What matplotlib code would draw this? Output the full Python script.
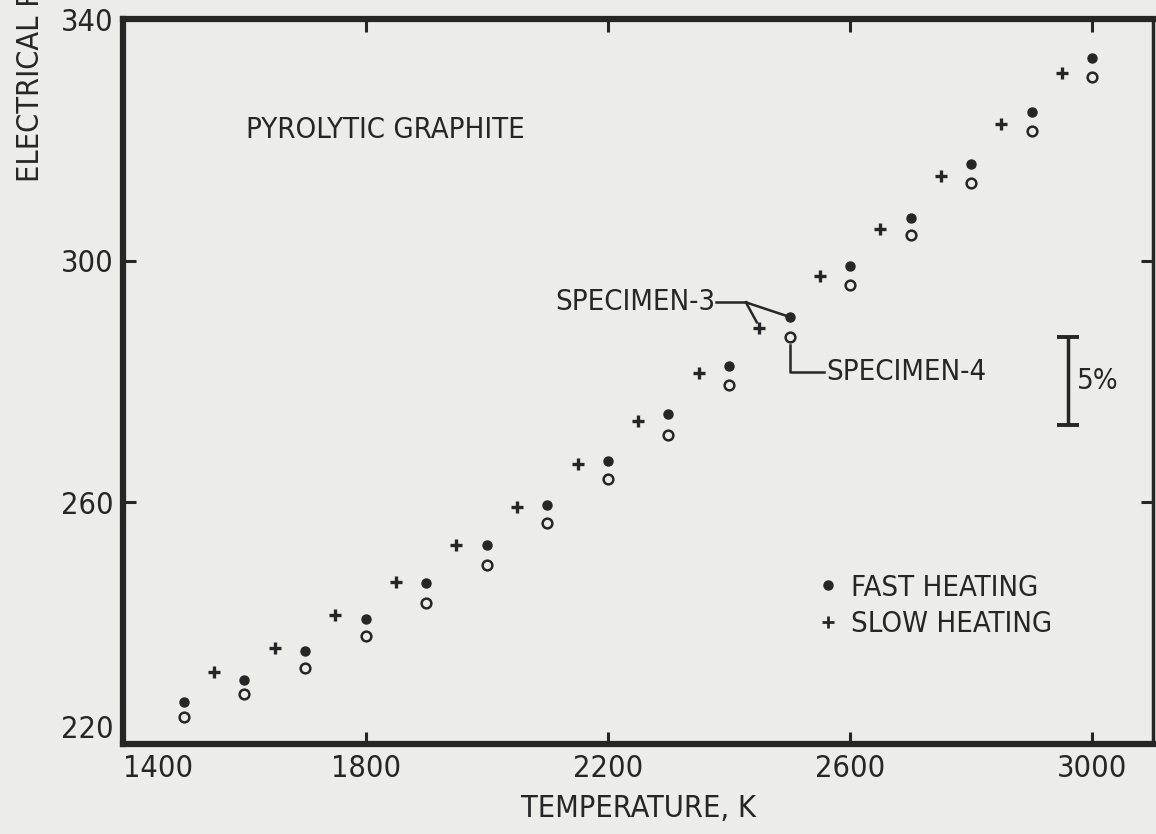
import matplotlib.pyplot as plt
import numpy as np
from matplotlib import font_manager
from matplotlib.lines import Line2D

# temperature grid, K
t_fast = [1500, 1600, 1700, 1800, 1900, 2000, 2100, 2200,
          2300, 2400, 2500, 2600, 2700, 2800, 2900, 3000]
t_slow = [1550, 1650, 1750, 1850, 1950, 2050, 2150, 2250,
          2350, 2450, 2550, 2650, 2750, 2850, 2950]

# resistivity, specimen 3 (fast heating, filled) and specimen 4 (open)
rho_spec3 = [226.9, 230.6, 235.4, 240.7, 246.6, 252.9, 259.5, 266.9,
             274.7, 282.5, 290.6, 299.2, 307.1, 316.0, 324.6, 333.6]
rho_spec4 = [224.5, 228.3, 232.6, 237.8, 243.3, 249.6, 256.5, 263.8,
             271.2, 279.5, 287.4, 295.9, 304.3, 312.9, 321.5, 330.4]
# slow heating run, specimen 3
rho_slow = [231.9, 235.9, 241.3, 246.8, 252.9, 259.3, 266.3, 273.4,
            281.4, 288.8, 297.5, 305.2, 314.0, 322.6, 331.1]

x_ticks = [1400, 1800, 2200, 2600, 3000]
y_ticks = [220, 260, 300, 340]

# 5 % scale bar
bar_T = 2960
bar_ref = 292.0
bar_mid = 280.1

ink = '#262626'
paper = '#ecede8'


def pick_condensed():
    """Find a narrow sans face; fall back to plain DejaVu."""
    faces = font_manager.fontManager.ttflist
    for f in faces:
        if f.name == 'DejaVu Sans' and f.stretch == 'condensed' \
                and f.style == 'normal' and f.weight in (400, 'normal'):
            return f.name, 'condensed'
    for f in faces:
        n = f.name.lower()
        if ('narrow' in n or 'condensed' in n) and f.style == 'normal':
            return f.name, 'normal'
    return 'DejaVu Sans', 'normal'


fam, stretch = pick_condensed()
plt.rcParams['font.family'] = [fam, 'DejaVu Sans']
plt.rcParams['font.stretch'] = stretch
plt.rcParams['text.color'] = ink

fig = plt.figure(figsize=(11.56, 8.34), dpi=100, facecolor=paper)
ax = fig.add_axes([0.1067, 0.1079, 0.8906, 0.8693], facecolor=paper)

ax.plot(t_fast, rho_spec3, 'o', ms=6.5, color=ink, mec=ink, ls='none')
ax.plot(t_fast, rho_spec4, 'o', ms=7, mfc='none', mec=ink, mew=1.8, ls='none')
ax.plot(t_slow, rho_slow, '+', ms=9, color=ink, mew=2.4, ls='none')

ax.set_xlim(1400, 3100)
ax.set_ylim(220, 340)
ax.set_xticks(x_ticks)
ax.set_yticks(y_ticks)
ax.tick_params(direction='in', length=9, width=2.2, color=ink,
               labelsize=22, labelcolor=ink, top=True, right=True, pad=7)
for side in ['left', 'bottom', 'top']:
    ax.spines[side].set_linewidth(4.5)
ax.spines['right'].set_linewidth(2.5)
for s in ax.spines.values():
    s.set_color(ink)

xl = ax.get_xticklabels()
xl[0].set_horizontalalignment('left')
yl = ax.get_yticklabels()
yl[0].set_verticalalignment('bottom')

ax.set_xlabel('TEMPERATURE, K', fontsize=22, labelpad=8, color=ink)
fig.text(0.026, 1 - 182 / 834, 'ELECTRICAL RESISTIVITY, \u03bc\u03a9 cm',
         rotation=90, ha='center', va='bottom', fontsize=22, color=ink)

ax.text(0.1187, 0.847, 'PYROLYTIC GRAPHITE', transform=ax.transAxes,
        fontsize=21, va='center', ha='left')

# leader lines for the two specimen labels
i3 = t_fast.index(2500)
j3 = t_slow.index(2450)
knee = (2428, 293.1)
ax.plot([2379, knee[0]], [knee[1], knee[1]], color=ink, lw=1.8)
ax.plot([knee[0], t_fast[i3] - 3], [knee[1], rho_spec3[i3] + 0.2], color=ink, lw=1.8)
ax.plot([knee[0], t_slow[j3] - 4], [knee[1], rho_slow[j3] + 1.0], color=ink, lw=1.8)
ax.text(2377, knee[1], 'SPECIMEN-3', fontsize=21, ha='right', va='center')

y4 = rho_spec4[i3] - 1.4
ax.plot([t_fast[i3], t_fast[i3], 2557], [y4, 281.6, 281.6], color=ink, lw=1.8)
ax.text(2561, 281.6, 'SPECIMEN-4', fontsize=21, ha='left', va='center')

half = 0.05 * bar_ref / 2
ax.errorbar([bar_T], [bar_mid], yerr=[half], fmt='none', ecolor=ink,
            elinewidth=2.5, capsize=8, capthick=2.8)
ax.text(bar_T + 14, bar_mid, '5%', fontsize=21, ha='left', va='center')

handles = [Line2D([], [], marker='o', ms=6.5, color=ink, ls='none'),
           Line2D([], [], marker='+', ms=9, mew=2.0, color=ink, ls='none')]
ax.legend(handles, ['FAST HEATING', 'SLOW HEATING'], loc='upper left',
          bbox_to_anchor=(0.676, 0.235), frameon=False, fontsize=21,
          handlelength=0.6, handletextpad=0.5, labelspacing=0.3,
          borderpad=0, borderaxespad=0, labelcolor=ink)

fig.savefig('out.png', dpi=100, facecolor=paper)
